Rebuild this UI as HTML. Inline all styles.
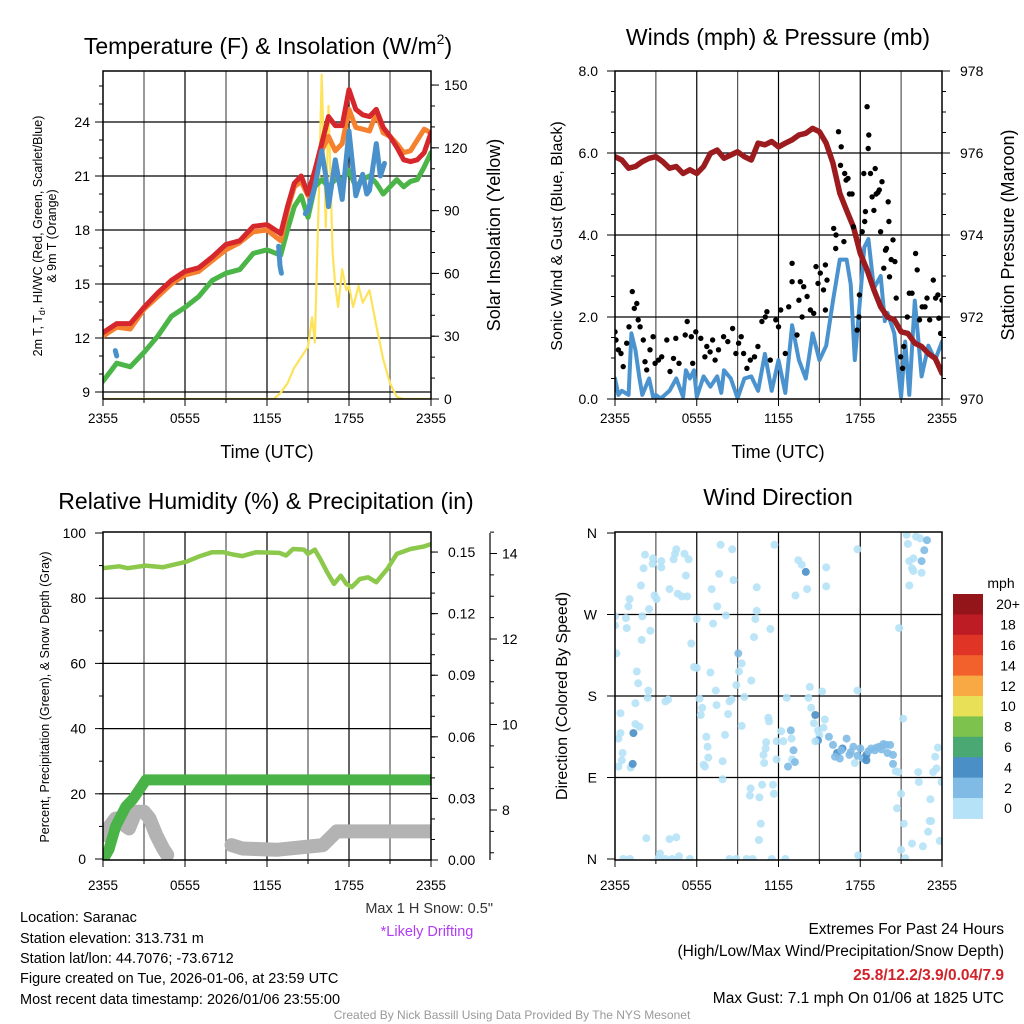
<!DOCTYPE html>
<html><head><meta charset="utf-8"><title>Saranac Meteogram</title>
<style>
html,body{margin:0;padding:0;background:#fff;}
svg{display:block;font-family:"Liberation Sans",Arial,sans-serif;}
</style></head>
<body>
<svg id="chart" xmlns="http://www.w3.org/2000/svg" width="1024" height="1024" viewBox="0 0 1024 1024">
<rect x="0" y="0" width="1024" height="1024" fill="#fff"/>
<defs>
<clipPath id="c1"><rect x="103" y="71" width="328" height="328"/></clipPath>
<clipPath id="c2"><rect x="615" y="71" width="327" height="328"/></clipPath>
<clipPath id="c3"><rect x="103" y="532" width="328" height="328"/></clipPath>
<clipPath id="c4"><rect x="615" y="532" width="327" height="328"/></clipPath>
</defs>
<g id="grid"></g>
<g id="marks"></g>
<g id="axes"></g>

<text x="268" y="54" font-size="23" text-anchor="middle">Temperature (F) &amp; Insolation (W/m<tspan font-size="14" dy="-10">2</tspan><tspan dy="10">)</tspan></text>
<text x="778" y="45" font-size="23" text-anchor="middle">Winds (mph) &amp; Pressure (mb)</text>
<text x="266" y="509" font-size="23" text-anchor="middle">Relative Humidity (%) &amp; Precipitation (in)</text>
<text x="778" y="505" font-size="23" text-anchor="middle">Wind Direction</text>

<text x="267" y="458" font-size="18" text-anchor="middle">Time (UTC)</text>
<text x="778" y="458" font-size="18" text-anchor="middle">Time (UTC)</text>

<text transform="translate(42,236) rotate(-90)" font-size="12.5" text-anchor="middle">2m T, T<tspan font-size="9" dy="3">d</tspan><tspan dy="-3">, HI/WC (Red, Green, Scarlet/Blue)</tspan></text>
<text transform="translate(56,236) rotate(-90)" font-size="12.5" text-anchor="middle">&amp; 9m T (Orange)</text>
<text transform="translate(500,235) rotate(-90)" font-size="18" text-anchor="middle">Solar Insolation (Yellow)</text>
<text transform="translate(562,236) rotate(-90)" font-size="16" text-anchor="middle">Sonic Wind &amp; Gust (Blue, Black)</text>
<text transform="translate(1014,235) rotate(-90)" font-size="18" text-anchor="middle">Station Pressure (Maroon)</text>
<text transform="translate(49,697) rotate(-90)" font-size="12.5" text-anchor="middle">Percent, Precipitation (Green), &amp; Snow Depth (Gray)</text>
<text transform="translate(567,696) rotate(-90)" font-size="16" text-anchor="middle">Direction (Colored By Speed)</text>

<text x="1001" y="588" font-size="14" text-anchor="middle">mph</text>

<g font-size="14.5">
<text x="20" y="922">Location: Saranac</text>
<text x="20" y="943">Station elevation: 313.731 m</text>
<text x="20" y="963">Station lat/lon: 44.7076; -73.6712</text>
<text x="20" y="983">Figure created on Tue, 2026-01-06, at 23:59 UTC</text>
<text x="20" y="1004">Most recent data timestamp: 2026/01/06 23:55:00</text>
</g>
<text x="493" y="913" font-size="14.5" text-anchor="end" fill="#333">Max 1 H Snow: 0.5"</text>
<text x="427" y="936" font-size="14.5" text-anchor="middle" fill="#b23bf5">*Likely Drifting</text>
<g font-size="15.5" text-anchor="end">
<text x="1004" y="934">Extremes For Past 24 Hours</text>
<text x="1004" y="956">(High/Low/Max Wind/Precipitation/Snow Depth)</text>
<text x="1004" y="980" fill="#d1232a" font-weight="bold">25.8/12.2/3.9/0.04/7.9</text>
<text x="1004" y="1003">Max Gust: 7.1 mph On 01/06 at 1825 UTC</text>
</g>
<text x="512" y="1019" font-size="12" text-anchor="middle" fill="#999">Created By Nick Bassill Using Data Provided By The NYS Mesonet</text>
</svg>

<script>
// ---------- data ----------
const tempHours = [0,1,2,3,4,5,6,7,8,9,10,11,12,13,13.5,14,14.5,15,15.5,16,16.5,17,17.5,18,18.5,19,19.5,20,20.5,21,21.5,22,22.5,23,23.5,24];
const tempRed = [12.3,12.8,12.8,13.7,14.5,15.2,15.7,15.9,16.5,17.2,17.4,18.2,18.3,17.8,19.3,20.6,21.0,20.0,21.3,22.8,24.3,23.8,23.8,25.8,24.7,24.4,24.3,24.7,23.7,23.2,22.6,21.9,21.8,21.9,22.3,23.4];
const tempOrange = [12.1,12.6,12.5,13.6,14.3,15.0,15.5,15.7,16.3,16.9,17.3,17.9,18.0,17.4,19.1,20.4,20.7,19.9,21.2,22.4,23.2,22.4,22.8,24.7,23.7,23.6,23.5,24.5,23.4,23.2,22.8,22.3,22.4,23.0,23.6,23.4];
const tempGreen = [9.6,10.6,10.4,11.2,12.1,13.2,13.7,14.3,15.2,15.6,15.8,16.7,16.9,16.6,18.0,19.3,19.9,18.7,20.4,20.8,20.4,20.8,20.8,21.3,20.4,20.8,21.0,20.6,20.0,20.4,20.8,20.4,20.7,20.8,21.5,22.3];
const blueHours = [0.9,1.0,null,12.85,12.95,13.05,null,14.8,15.0,15.5,16.0,16.3,16.5,17.0,17.3,17.5,18.0,18.5,19.0,19.3,19.5,20.0,20.3,20.6];
const blueValues = [11.3,11.0,null,17.1,16.0,15.6,null,18.9,19.1,20.4,22.4,21.0,19.3,21.9,20.6,19.7,23.5,19.9,21.1,20.0,20.2,22.8,21.0,21.7];
const solarHours = [0,12.5,13,13.5,14,14.5,15,15.3,15.5,15.8,16,16.3,16.5,16.8,17,17.2,17.5,17.8,18,18.3,18.7,19,19.5,20,20.5,21,21.5,22,24];
const solarValues = [0,0,3,7.5,15,20,25,39,27,98,155,82,140,70,54,44,62,52,54,44,54,46,52,35,19,7.5,1,0,0];

const windHours = [0,0.25,0.5,1,1.2,1.5,1.8,2,2.5,2.8,3,3.3,3.5,4,4.5,5,5.2,5.5,5.8,6,6.5,7,7.5,7.8,8,8.5,9,9.5,10,10.5,11,11.5,12,12.5,13,13.5,14,14.5,15,15.5,16,16.5,17,17.3,17.6,18,18.3,18.6,19,19.5,19.8,20,20.5,21,21.3,21.6,22,22.5,23,23.5,24];
const windSpeed = [0.5,0.1,0.2,0.1,1.6,1.2,0.5,0.1,0.5,0.05,0.1,0.02,0.05,0.2,0.5,0.05,0.7,0.5,0.7,0.05,0.55,0.3,0.55,0.15,0.7,0.5,0.02,0.5,0.55,0.2,1.1,0.2,0.95,0.15,1.8,0.95,0.5,1.6,0.95,1.3,2.4,3.4,3.4,2.8,0.95,2.5,3.7,3.9,2.7,3.0,1.9,2.1,1.6,0.05,1.4,0.1,2.4,0.55,1.3,0.95,1.4];
const gustHours = [0,0.07,0.25,0.44,0.6,0.86,1.03,1.27,1.42,1.6,1.7,1.84,2.08,2.2,2.33,2.57,2.8,2.94,3.19,3.43,3.8,4.04,4.29,4.46,4.7,5.15,5.3,5.6,5.7,5.93,6.3,6.6,6.74,6.98,7.16,7.35,7.6,7.97,8.28,8.63,8.87,9.07,9.26,9.44,9.68,9.93,10.24,10.49,10.78,11.03,11.15,11.4,11.8,12.0,12.16,12.5,12.75,13.0,13.0,13.36,13.5,13.6,13.73,13.85,14.1,14.34,14.58,14.75,14.9,15.07,15.3,15.44,15.44,15.56,16.05,16.2,16.22,16.4,16.6,16.55,16.8,16.86,16.96,17.1,17.2,17.4,17.5,17.77,17.9,17.94,18.14,18.26,18.33,18.38,18.5,18.58,18.63,18.75,18.87,19.0,19.1,19.17,19.3,19.4,19.49,19.6,19.73,19.85,19.93,20.05,20.1,20.15,20.27,20.4,20.54,20.64,20.96,21.1,21.2,21.45,21.6,21.8,22.06,22.18,22.35,22.55,22.75,22.9,23.1,23.36,23.53,23.7,23.77,23.9,24.0];
const gustSpeed = [1.64,1.44,1.2,1.11,0.79,1.36,1.76,2.62,2.21,2.33,1.93,1.76,1.44,0.91,0.71,1.2,1.52,0.87,0.95,1.03,1.44,0.67,0.99,1.48,0.87,1.56,1.89,1.52,0.87,1.64,1.48,1.03,1.28,1.15,1.44,0.95,1.2,1.52,1.4,1.72,1.11,1.36,1.52,1.11,0.75,0.95,1.03,1.28,1.89,2.0,2.13,0.95,1.93,1.76,2.17,1.11,2.25,3.31,2.86,1.56,2.41,2.86,2.0,2.74,2.5,2.17,2.09,3.23,2.82,3.07,2.66,3.27,2.17,2.9,4.16,3.67,4.0,6.52,6.15,5.7,3.84,5.5,5.34,5.38,5.0,5.0,4.2,1.68,2.0,2.54,4.08,5.5,4.33,4.57,7.13,6.11,6.44,5.5,4.93,4.6,5.62,5.0,5.04,5.1,4.08,5.3,3.19,3.63,3.67,4.81,4.33,2.98,3.4,3.88,3.35,2.46,1.03,0.75,1.28,2.0,2.58,2.58,3.55,3.15,1.93,2.25,2.25,2.46,1.93,2.9,2.46,2.54,1.97,1.6,2.41];
const presHours = [0,0.5,1,1.5,2,2.5,3,3.5,4,4.5,5,5.5,6,6.5,7,7.5,8,8.5,9,9.5,10,10.5,11,11.5,12,12.5,13,13.5,14,14.5,15,15.5,16,16.5,17,17.5,18,18.5,19,19.5,20,20.5,21,21.5,22,22.5,23,23.5,24];
const presValues = [975.91,975.83,975.63,975.67,975.79,975.87,975.91,975.79,975.63,975.67,975.5,975.59,975.5,975.67,975.99,976.07,975.87,975.95,976.03,975.91,975.83,976.24,976.2,976.28,976.15,976.24,976.32,976.44,976.48,976.6,976.52,976.24,975.75,975.02,974.6,974.2,973.55,973.15,972.66,972.25,972.0,971.93,971.64,971.6,971.36,971.28,971.11,970.99,970.63];

const rhHours = [0,1.2,1.8,3.1,4.4,6.1,7.1,8,8.8,9.5,10.2,11.2,12.9,13.4,13.9,14.7,15,15.5,15.9,16.4,16.9,17.4,17.8,18.2,18.8,19.4,20,20.8,21.5,22.5,23.5,24];
const rhValues = [89.2,89.8,89.2,90,89.5,91.2,92.9,94.1,94.1,93.4,92.9,94.1,93.9,93.1,95.1,94.9,93.6,94.9,92,88,84.4,86.9,84.4,83.4,85.9,86.4,84.9,89,93.6,95.1,95.9,96.6];
const precipHours = [0,0.44,0.93,1.67,2.16,2.65,3.14,24];
const precipValues = [0,0.0052,0.0164,0.026,0.0294,0.0341,0.039,0.039];
const snowHours = [0,0.93,1.9,2.4,3.0,3.4,3.9,4.4,4.7,null,9.4,10.2,12.7,16.1,17.1,20.3,24];
const snowValues = [7.41,7.80,7.57,7.96,7.96,7.80,7.41,7.10,6.95,null,7.18,7.10,7.07,7.18,7.50,7.50,7.50];

const dirHours = [0,0,0.1,0.4,0.4,0.25,0.56,0.5,0.25,1.15,1.3,1.35,1.5,1.8,1.5,1.7,1.6,2.4,2.45,1.96,2.6,2.0,0.86,0.8,0.98,1.07,2.5,2.9,3.05,1.9,2.1,2.2,2.8,2.76,3.4,3.4,4.3,4.4,4.5,5.1,5.4,5.2,4.0,4.6,4.9,5.3,2.3,4.0,4.5,3.3,0.6,1.1,3.2,3.7,4.2,4.7,5.5,3.7,3.9,6.0,5.6,5.8,6.0,6.2,6.4,6.3,6.7,6.8,6.85,6.5,6.6,7.2,7.5,7.65,7.75,7.1,7.0,7.4,7.45,8.07,8.14,7.9,7.9,8.3,8.4,8.55,8.7,8.6,8.9,9.05,9.3,9.1,9.5,9.3,10.0,10.2,10.3,10.4,10.4,8.4,8.9,9.66,10.1,9.95,9.9,10.6,10.8,11.6,11.66,10.7,10.56,11.5,12.5,10.9,11.05,11.1,11.25,11.3,11.4,11.7,11.86,12.2,12.35,12.6,12.9,12.96,13.1,13.0,13.2,12.7,11.86,10.95,13.25,13.45,13.7,14.0,14.1,14.2,14.3,14.4,14.6,14.7,14.9,15.0,14.9,14.7,15.3,15.4,15.2,15.5,15.5,15.7,16,16.3,16.5,16.7,17,17.2,17.5,17.6,18,18.2,18.45,18.45,18.8,19.07,19.4,19.7,19.9,20.2,20.4,20.4,20.6,20.8,16.15,16.6,17.3,17.8,18.6,19.2,19.55,20.0,17.8,17.8,17.85,20.85,21.15,21.0,20.7,21.2,21.0,21.3,21.4,21.5,22.1,22.4,22.9,22.7,22.5,21.9,21.6,21.8,21.9,22.5,21.6,22.25,22.3,23.35,23.6,23.7,23.5,23.96,23.15,23.1,23.2,22.98,23.84,22.6,21.8];
const dirDegrees = [268,258,227,161,139,133,117,109,102,101,105,139,149,146,172,194,207,178,186,242,252,268,255,266,279,287,276,291,287,302,321,336,332,326,329,322,331,337,342,337,331,313,298,293,290,290,23,22,24,6,0,0,1,0,0,3,0,174,176,265,238,212,211,177,167,159,135,124,112,104,102,260,279,315,347,298,206,186,170,137,269,108,88,160,174,176,308,342,192,227,216,207,179,147,197,245,265,274,300,0,0,0,0,78,70,68,82,82,72,39,21,0,0,115,122,129,156,152,254,347,130,141,130,178,142,133,120,110,107,102,110,106,291,330,325,317,298,178,190,167,150,159,142,137,131,130,145,154,185,322,301,135,126,117,111,122,133,115,124,106,122,111,115,109,122,120,124,127,126,126,115,105,97,96,113,120,118,114,119,123,121,117,342,186,4,255,155,72,56,39,10,1,358,348,356,354,352,341,329,332,329,321,318,316,302,96,85,96,100,123,113,85,66,42,42,30,20,14,17];
const dirSpeed = [1,1,1,1,1,1,1,1,1,1,4.5,4.5,1,1,1,1,1,1,1,1,1,1,1,1,1,1,1,1,1,1,1,1,1,1,1,1,1,1,1,1,1,1,1,1,1,1,1,1,1,1,1,1,1,1,1,1,1,1,1,1,1,1,1,1,1,1,1,1,1,1,1,1,1,1,1,1,1,1,1,1,1,1,1,1,1,1,1,1,1,2.5,1,1,1,1,1,1,1,1,1,1,1,1,1,1,1,1,1,1,1,1,1,1,1,1,1,1,1,1,1,1,1,1,1,1,3,1,2.5,1,2.5,3,1,1,1,1,1,4.5,1,1,1,1,1,4.5,1,1,4.5,1,1,1,1,1,1,2.5,2.5,4.5,2.5,4.5,2.5,3,2.5,1,2.5,3,4.5,4.5,2.5,2.5,2.5,2.5,2.5,2.5,2.5,2.5,1,1,3,3,2.5,3,2.5,3,3,3,1,1,1,1,1,1,1,1,1,1,1,1,1,1,2.5,2.5,2.5,1,1,1,1,1,1,1,1,1,1,1,1,1,1,1,1,1,1,1,1];

const barLabels = ["20+","18","16","14","12","10","8","6","4","2","0"];
const barColors = ["#931419","#bd1c24","#e03427","#f2612b","#f8a944","#e8e057","#7cc24d","#4aa872","#4a8fc6","#7fbbe5","#b5e2f7"];

const timeLabels = ["2355","0555","1155","1755","2355"];
const tempTicks = [9,12,15,18,21,24];
const solarTicks = [0,30,60,90,120,150];
const windTicks = [0,2,4,6,8];
const presTicks = [970,972,974,976,978];
const rhTicks = [0,20,40,60,80,100];
const precipTicks = [0,0.03,0.06,0.09,0.12,0.15];
const snowTicks = [8,10,12,14];
const dirTicks = [0,90,180,270,360];
const dirLabels = ["N","E","S","W","N"];

// ---------- scales ----------
const NS = "http://www.w3.org/2000/svg";
const svg = document.getElementById("chart");
const G = document.getElementById("grid"), M = document.getElementById("marks"), A = document.getElementById("axes");
const x1 = h => 103 + h * 13.667;
const x2 = h => 615 + h * 13.625;
const yT = v => 122 + (24 - v) * 18;
const yS = w => 399 - w * 2.093;
const yW = v => 399 - v * 41;
const yP = p => 399 - (p - 970) * 41;
const yRH = p => 859 - p * 3.26;
const yPr = i => 860 - i * 2053;
const ySn = s => 810 - (s - 8) * 42.75;
const yD = d => 859 - d * 326 / 360;

function mk(tag, attrs, parent) {
  const e = document.createElementNS(NS, tag);
  for (const k in attrs) e.setAttribute(k, attrs[k]);
  parent.appendChild(e);
  return e;
}
function pathD(hs, vs, xf, yf) {
  let d = "", pen = false;
  for (let i = 0; i < hs.length; i++) {
    if (hs[i] === null || vs[i] === null) { pen = false; continue; }
    d += (pen ? "L" : "M") + xf(hs[i]).toFixed(1) + "," + yf(vs[i]).toFixed(1);
    pen = true;
  }
  return d;
}
function series(hs, vs, xf, yf, color, width, clip, name) {
  const p = mk("path", {d: pathD(hs, vs, xf, yf), fill: "none", stroke: color, "stroke-width": width, "stroke-linejoin": "round", "stroke-linecap": "round", "clip-path": "url(#" + clip + ")"}, M);
  
  
  return p;
}
function line(x1_, y1_, x2_, y2_, color, w, parent, name) {
  const l = mk("line", {x1: x1_, y1: y1_, x2: x2_, y2: y2_, stroke: color, "stroke-width": w}, parent);
  
  
  return l;
}
function label(x, y, str, anchor, parent, name, size) {
  const t = mk("text", {x: x, y: y, "text-anchor": anchor, "font-size": size || 14}, parent);
  t.textContent = str;
  
  
  return t;
}

// ---------- panel frames, grids, axes ----------
const panels = [
  {L:103,R:431,T:71,B:399,xf:x1,name:"temperature",lo:24},
  {L:615,R:942,T:71,B:399,xf:x2,name:"winds",lo:24},
  {L:103,R:431,T:532,B:860,xf:x1,name:"humidity",lo:30},
  {L:615,R:942,T:532,B:860,xf:x2,name:"direction",lo:30}
];
panels.forEach(p => {
  for (let h = 3; h < 24; h += 3) line(p.xf(h), p.T, p.xf(h), p.B, h % 6 === 0 ? "#000" : "#555", 1.2, G, p.name + "-vgrid");
  for (let h = 0; h <= 24; h += 3) line(p.xf(h), p.B, p.xf(h), p.B + (h % 6 === 0 ? 7 : 4), "#000", 1, A, p.name + "-x-tick");
  timeLabels.forEach((s, i) => label(p.xf(i * 6), p.B + p.lo, s, "middle", A, p.name + "-x-tick-label", 13.5));
});
// panel 1
tempTicks.forEach(v => {
  line(103, yT(v), 431, yT(v), "#000", 1.2, G, "temperature-hgrid");
  line(95, yT(v), 103, yT(v), "#000", 1, A, "temperature-y-tick");
  label(90, yT(v) + 5, String(v), "end", A, "temperature-y-tick-label");
});
for (let v = 9; v <= 26; v++) line(99, yT(v), 103, yT(v), "#000", 1, A, "temperature-y-minor-tick");
solarTicks.forEach(v => {
  line(431, yS(v), 439, yS(v), "#000", 1, A, "insolation-y-tick");
  label(444, yS(v) + 5, String(v), "start", A, "insolation-y-tick-label");
});
for (let v = 0; v <= 150; v += 10) line(431, yS(v), 435, yS(v), "#000", 1, A, "insolation-y-minor-tick");
// panel 2
windTicks.forEach(v => {
  if (v > 0 && v < 8) line(615, yW(v), 942, yW(v), "#000", 1.2, G, "winds-hgrid");
  line(607, yW(v), 615, yW(v), "#000", 1, A, "wind-y-tick");
  label(598, yW(v) + 5, v.toFixed(1), "end", A, "wind-y-tick-label");
});
for (let v = 0; v <= 8; v += 0.5) line(611, yW(v), 615, yW(v), "#000", 1, A, "wind-y-minor-tick");
presTicks.forEach(v => {
  line(942, yP(v), 950, yP(v), "#000", 1, A, "pressure-y-tick");
  label(960, yP(v) + 5, String(v), "start", A, "pressure-y-tick-label");
});
for (let v = 970; v <= 978; v += 0.5) line(942, yP(v), 946, yP(v), "#000", 1, A, "pressure-y-minor-tick");
// panel 3
rhTicks.forEach(v => {
  if (v > 0 && v < 100) line(103, yRH(v), 431, yRH(v), "#000", 1.2, G, "humidity-hgrid");
  line(95, yRH(v), 103, yRH(v), "#000", 1, A, "humidity-y-tick");
  label(86, yRH(v) + 5, String(v), "end", A, "humidity-y-tick-label");
});
for (let v = 0; v <= 100; v += 10) line(99, yRH(v), 103, yRH(v), "#000", 1, A, "humidity-y-minor-tick");
precipTicks.forEach(v => {
  line(431, yPr(v), 438, yPr(v), "#000", 1, A, "precip-y-tick");
  label(448, yPr(v) + 5, v.toFixed(2), "start", A, "precip-y-tick-label");
});
for (let v = 0; v <= 0.15; v += 0.01) line(431, yPr(v), 435, yPr(v), "#000", 1, A, "precip-y-minor-tick");
line(490, 533, 490, 860, "#000", 1.2, A, "snow-axis-line");
snowTicks.forEach(v => {
  line(490, ySn(v), 497, ySn(v), "#000", 1, A, "snow-y-tick");
  label(502, ySn(v) + 5, String(v), "start", A, "snow-y-tick-label");
});
for (let v = 7; v <= 14.5; v += 0.5) line(490, ySn(v), 494, ySn(v), "#000", 1, A, "snow-y-minor-tick");
// panel 4
dirTicks.forEach((v, i) => {
  if (v > 0 && v < 360) line(615, yD(v), 942, yD(v), "#000", 1.2, G, "direction-hgrid");
  line(607, yD(v), 615, yD(v), "#000", 1, A, "direction-y-tick");
  label(597, yD(v) + 5, dirLabels[i], "end", A, "direction-y-tick-label");
});
// frames
panels.forEach(p => {
  const r = mk("rect", {x: p.L, y: p.T, width: p.R - p.L, height: p.B - p.T, fill: "none", stroke: "#000", "stroke-width": 1.5}, A);
  
  
});

// ---------- marks ----------
series(solarHours, solarValues, x1, yS, "#fde35a", 2.2, "c1", "insolation-line");
series(tempHours, tempGreen, x1, yT, "#4bb548", 5, "c1", "dewpoint-line");
series(tempHours, tempOrange, x1, yT, "#f5812f", 5, "c1", "temp-9m-line");
series(tempHours, tempRed, x1, yT, "#d5272c", 5, "c1", "temp-2m-line");
series(blueHours, blueValues, x1, yT, "#4a91cb", 5, "c1", "windchill-line");

series(windHours, windSpeed, x2, yW, "#4a93cf", 4, "c2", "wind-speed-line");
series(presHours, presValues, x2, yP, "#9b1b1e", 5.5, "c2", "pressure-line");
gustHours.forEach((h, i) => {
  const c = mk("circle", {cx: x2(h).toFixed(1), cy: yW(gustSpeed[i]).toFixed(1), r: 2.7, fill: "#000", "clip-path": "url(#c2)"}, M);
  
  
});

series(rhHours, rhValues, x1, yRH, "#8cc84b", 4.5, "c3", "humidity-line");
series(snowHours, snowValues, x1, ySn, "#b3b3b3", 14, "c3", "snow-depth-line");
series(precipHours, precipValues, x1, yPr, "#49b347", 11, "c3", "precip-line");

function speedColor(s) {
  const idx = Math.min(10, Math.floor(s / 2));
  return barColors[10 - idx];
}
dirHours.forEach((h, i) => {
  const c = mk("circle", {cx: x2(h).toFixed(1), cy: yD(dirDegrees[i]).toFixed(1), r: 4, fill: speedColor(dirSpeed[i]), "fill-opacity": 0.9, "clip-path": "url(#c4)"}, M);
  
  
});

// ---------- colorbar ----------
const cbTop = 594, cbH = 20.4;
barLabels.forEach((s, i) => {
  const r = mk("rect", {x: 953, y: cbTop + i * cbH, width: 30, height: cbH + 0.5, fill: barColors[i]}, A);
  
  
  label(1008, cbTop + i * cbH + cbH / 2 + 5, s, "middle", A, "colorbar-label");
});
</script>
</body></html>
